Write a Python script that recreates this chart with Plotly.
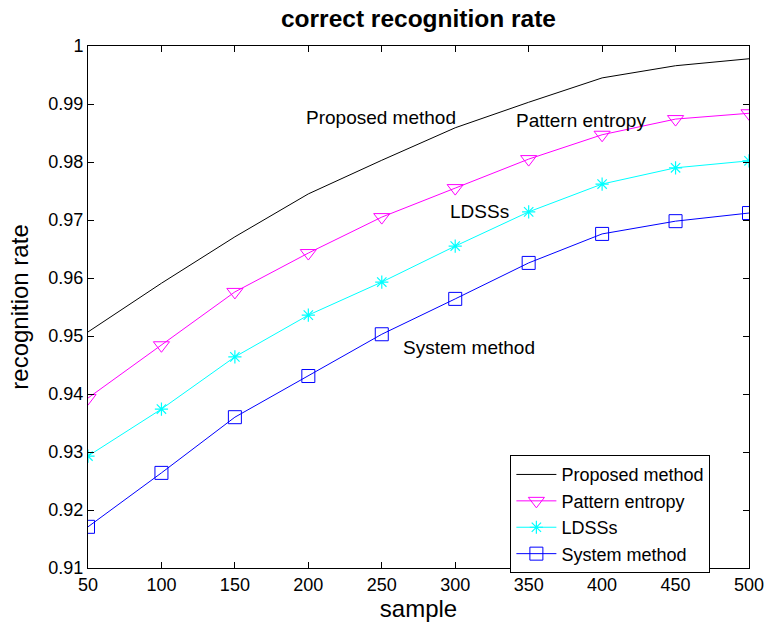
import plotly.graph_objects as go

samples = [50, 100, 150, 200, 250, 300, 350, 400, 450, 500]
proposed = [0.9507, 0.9591, 0.9671, 0.9745, 0.9803, 0.9859, 0.9903, 0.9945, 0.9966, 0.9978]
pattern_entropy = [0.9393, 0.9484, 0.9576, 0.9643, 0.9705, 0.9755, 0.9805, 0.9847, 0.9874, 0.9884]
ldss = [0.9293, 0.9374, 0.9464, 0.9536, 0.9593, 0.9655, 0.9714, 0.9762, 0.9790, 0.9802]
system_method = [0.9171, 0.9264, 0.9360, 0.9431, 0.9503, 0.9564, 0.9626, 0.9676, 0.9698, 0.9712]

x_ticks = [50, 100, 150, 200, 250, 300, 350, 400, 450, 500]
y_ticks = [0.91, 0.92, 0.93, 0.94, 0.95, 0.96, 0.97, 0.98, 0.99, 1.0]
y_tick_labels = ["0.91", "0.92", "0.93", "0.94", "0.95", "0.96", "0.97", "0.98", "0.99", "1"]

labels = [
    ("Proposed method", 197, 0.9876),
    ("Pattern entropy", 340, 0.9872),
    ("LDSSs", 295, 0.9714),
    ("System method", 263, 0.9481),
]

font = "Liberation Sans, Arial, sans-serif"

fig = go.Figure()
fig.add_trace(go.Scatter(x=samples, y=proposed, mode="lines", name="Proposed method",
                         line=dict(color="black", width=1)))
fig.add_trace(go.Scatter(x=samples, y=pattern_entropy, mode="lines+markers", name="Pattern entropy",
                         line=dict(color="#ff00ff", width=1),
                         marker=dict(symbol="triangle-down-open", size=14, color="#ff00ff", line=dict(width=1))))
fig.add_trace(go.Scatter(x=samples, y=ldss, mode="lines+markers", name="LDSSs",
                         line=dict(color="#00ffff", width=1),
                         marker=dict(symbol="asterisk-open", size=11, color="#00ffff", line=dict(width=1.2, color="#00ffff"))))
fig.add_trace(go.Scatter(x=samples, y=system_method, mode="lines+markers", name="System method",
                         line=dict(color="#0000ff", width=1),
                         marker=dict(symbol="square-open", size=13, color="#0000ff", line=dict(width=1))))

for text, xv, yv in labels:
    fig.add_annotation(x=xv, y=yv, text=text, showarrow=False, xanchor="left", yanchor="middle",
                       font=dict(family=font, size=19, color="black"))

axis_common = dict(showline=True, linecolor="black", linewidth=1, mirror="ticks", ticks="inside",
                   ticklen=6, tickcolor="black", showgrid=False, zeroline=False, automargin=False,
                   ticklabeloverflow="allow",
                   tickfont=dict(family=font, size=18, color="black"))

fig.update_layout(
    width=764, height=625,
    paper_bgcolor="white", plot_bgcolor="white",
    margin=dict(l=88, r=15, t=46, b=57),
    title=dict(text="<b>correct recognition rate</b>", x=0.5, xref="paper", xanchor="center",
               y=1 - 18 / 625, yref="container", yanchor="middle",
               font=dict(family=font, size=24.5, color="black")),
    xaxis=dict(range=[50, 500], tickvals=x_ticks, title=dict(text="sample", standoff=2,
               font=dict(family=font, size=24, color="black")), **axis_common),
    yaxis=dict(range=[0.91, 1.0], tickvals=y_ticks, ticktext=y_tick_labels,
               title=dict(text="recognition rate", standoff=12, font=dict(family=font, size=24, color="black")),
               **axis_common),
    legend=dict(x=0.639, y=0.216, xanchor="left", yanchor="top", bgcolor="white",
                bordercolor="black", borderwidth=1, font=dict(family=font, size=18, color="black"),
                tracegroupgap=0, itemwidth=40),
    showlegend=True,
)

fig.write_html("out.html", config={"displayModeBar": False},
               post_script="document.body.style.margin='0px';document.body.style.overflow='hidden';")
